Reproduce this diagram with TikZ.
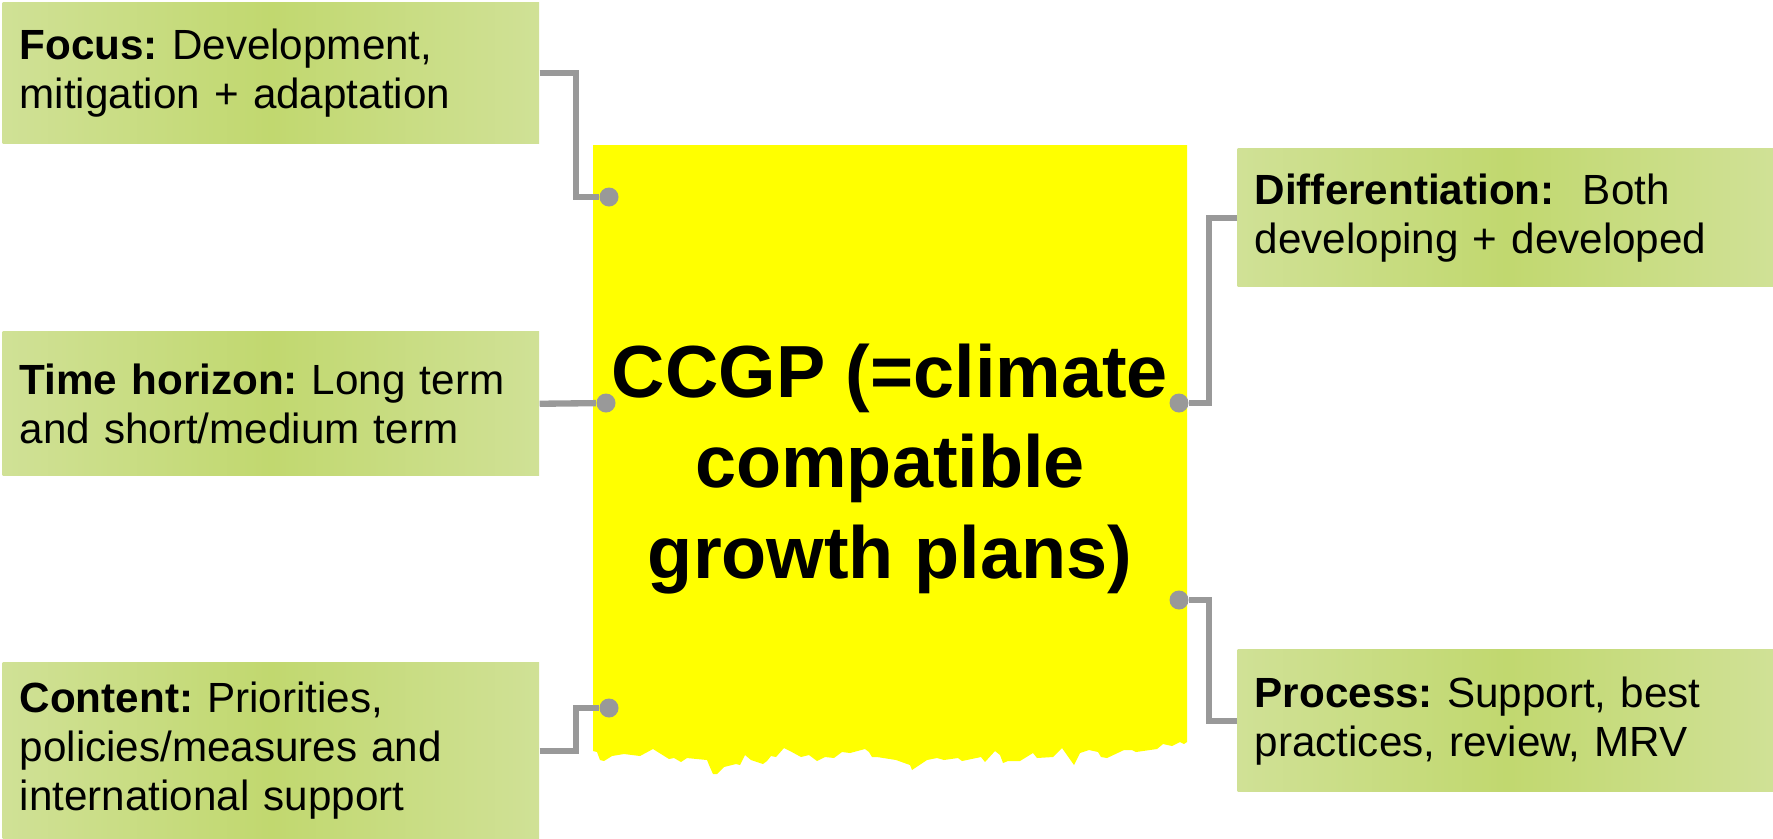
\documentclass[tikz,border=0pt]{standalone}
\usepackage{fontspec}
\setmainfont{Liberation Sans}
\frenchspacing
\definecolor{leafpale}{HTML}{D0E196}
\definecolor{leafdeep}{HTML}{C1D86F}
\definecolor{wire}{HTML}{999999}
\definecolor{sheet}{RGB}{255,255,0}

\begin{document}
\begin{tikzpicture}[x=0.01cm,y=-0.01cm,
  topic/.style={anchor=north west,minimum width=5.36cm,text width=5.02cm,inner xsep=0.17cm,inner ysep=0pt,align=left,
    left color=leafpale,right color=leafpale,middle color=leafdeep,font=\fontsize{12}{14}\selectfont},
  pin/.style={circle,fill=wire,inner sep=0pt,minimum size=0.19cm},
  wireline/.style={wire,line width=1.8pt}]

\useasboundingbox (0,0) rectangle (1773,838);

% yellow sheet with torn lower edge
\fill[sheet] (593,145) -- (593,751) -- (597,752) -- (600,760) -- (604,761) -- (612,756) -- (624,754) -- (640,756)
  -- (653,749) -- (669,759) -- (674,758) -- (681,762) -- (687,758) -- (707,760) -- (709,765) -- (713,774)
  -- (717,774) -- (724,767) -- (736,764) -- (740,765) -- (745,755) -- (751,760) -- (763,764) -- (767,761)
  -- (771,756) -- (776,757) -- (784,748) -- (790,751) -- (801,757) -- (809,755) -- (817,761) -- (825,757)
  -- (834,758) -- (842,752) -- (850,753) -- (865,749) -- (869,752) -- (872,757) -- (877,757) -- (896,760)
  -- (910,765) -- (912,770) -- (927,760) -- (937,758) -- (944,760) -- (958,758) -- (962,761) -- (981,757)
  -- (985,762) -- (995,751) -- (1000,755) -- (1003,763) -- (1008,761) -- (1020,761) -- (1033,753) -- (1037,758)
  -- (1053,757) -- (1062,748) -- (1074,765) -- (1080,753) -- (1089,750) -- (1098,752) -- (1101,757) -- (1107,758)
  -- (1124,750) -- (1132,750) -- (1136,752) -- (1157,749) -- (1163,744) -- (1172,746) -- (1180,742) -- (1184,744)
  -- (1187,742) -- (1187,145) -- cycle;

\node[font=\fontsize{21}{25.7}\selectfont\bfseries,align=center] (ccgp) at (890,469) {CCGP (=climate\\compatible\\growth plans)};

\node[topic,minimum height=1.41cm] (focus) at (2,2) {\textbf{Focus:} Development,\\mitigation + adaptation};
\node[topic,minimum height=1.44cm] (time) at (2,331) {\textbf{Time horizon:} Long term\\and short/medium term};
\node[topic,minimum height=1.76cm] (content) at (2,662) {\textbf{Content:} Priorities,\\policies/measures and\\international support};
\node[topic,minimum height=1.38cm] (diff) at (1237,148) {\textbf{Differentiation:}\ \ Both\\developing + developed};
\node[topic,minimum height=1.42cm] (process) at (1237,649) {\textbf{Process:} Support, best\\practices, review, MRV};

\node[pin] (d1) at (609,197) {};
\node[pin] (d2) at (606,403) {};
\node[pin] (d3) at (609,708) {};
\node[pin] (d4) at (1179,403) {};
\node[pin] (d5) at (1179,600) {};

\draw[wireline] (focus.east) -- ++(36,0) |- (d1);
\draw[wireline] (time.east) -- (d2);
\draw[wireline] (content.east) -- ++(36,0) |- (d3);
\draw[wireline] (diff.west) -- ++(-28,0) |- (d4);
\draw[wireline] (process.west) -- ++(-28,0) |- (d5);

\end{tikzpicture}
\end{document}
